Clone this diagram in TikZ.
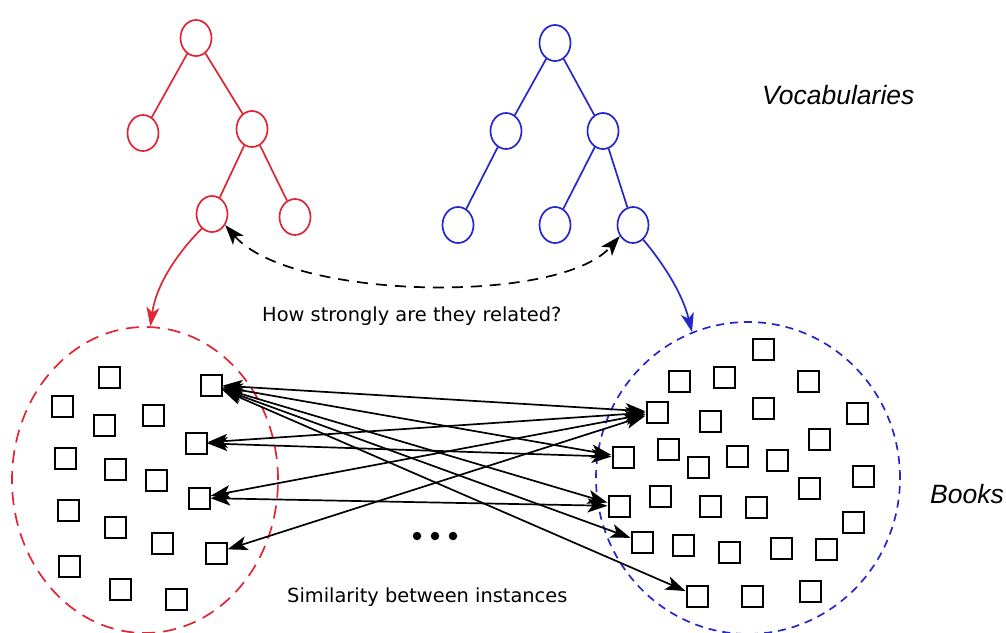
\documentclass[tikz,border=0pt]{standalone}
\usepackage{fontspec}
\setsansfont{DejaVu Sans}
\newfontfamily\arialfont{Liberation Sans}
\usetikzlibrary{shapes.geometric,arrows.meta}
\definecolor{tred}{RGB}{222,38,52}
\definecolor{tblue}{RGB}{38,38,205}
\tikzset{
  tnode/.style={draw,ellipse,minimum width=31pt,minimum height=36pt,inner sep=0pt,line width=1.7pt},
  rnode/.style={tnode,tred},
  bnode/.style={tnode,tblue},
  redge/.style={tred,line width=1.7pt},
  bedge/.style={tblue,line width=1.7pt},
  sq/.style={draw,rectangle,minimum size=21pt,inner sep=0pt,line width=2pt},
  rel/.style={line width=1.7pt,{Stealth[length=20pt,width=14pt,inset=5pt]}-{Stealth[length=20pt,width=14pt,inset=5pt]}},
  tip/.style={line width=1.7pt,-{Stealth[length=19pt,width=13pt,inset=5pt]}},
  lbl/.style={font=\sffamily\fontsize{19.4}{22}\selectfont,inner sep=0pt,anchor=base west},
  ilbl/.style={font=\arialfont\itshape\fontsize{26.5}{30}\selectfont,inner sep=0pt,anchor=base west},
  dotn/.style={circle,fill=black,minimum size=8.5pt,inner sep=0pt},
}
\begin{document}
\begin{tikzpicture}[x=1pt,y=-1pt]
\useasboundingbox (0,0) rectangle (1006,632);
% book collections
\node[draw=tred,dash pattern=on 13pt off 8pt,line width=1.7pt,ellipse,minimum width=266pt,minimum height=306pt,inner sep=0pt] (lc) at (145,480) {};
\node[draw=tblue,dash pattern=on 8pt off 6pt,line width=1.7pt,ellipse,minimum width=304pt,minimum height=312pt,inner sep=0pt] (rc) at (748,478) {};
% red tree
\node[rnode] (r1) at (196,38) {};
\node[rnode] (r2) at (143,133) {};
\node[rnode] (r3) at (252,129) {};
\node[rnode] (r4) at (212,214) {};
\node[rnode] (r5) at (295,217) {};
\draw[redge] (r1) -- (r2);
\draw[redge] (r1) -- (r3);
\draw[redge] (r3) -- (r4);
\draw[redge] (r3) -- (r5);
% blue tree
\node[bnode] (b1) at (555,43) {};
\node[bnode] (b2) at (506,131) {};
\node[bnode] (b3) at (603,131) {};
\node[bnode] (b4) at (458,225) {};
\node[bnode] (b5) at (555,225) {};
\node[bnode] (b6) at (633,225) {};
\draw[bedge] (b1) -- (b2);
\draw[bedge] (b1) -- (b3);
\draw[bedge] (b2) -- (b4);
\draw[bedge] (b3) -- (b5);
\draw[bedge] (b3) -- (b6);
% arrows tree -> collection
\draw[tip,tred] (r4.235) .. controls (178,252) and (156,285) .. (lc.88);
\draw[tip,tblue] (b6.-55) .. controls (662,262) and (682,292) .. (rc.111);
\draw[rel,dash pattern=on 11pt off 8pt] (r4.-40) .. controls (290,300) and (560,305) .. (b6.-140);
% labels
\node[ilbl] (voc) at (762,104) {Vocabularies};
\node[ilbl] (books) at (930,503) {Books};
\node[lbl] (how) at (262,321) {How strongly are they related?};
\node[lbl] (sim) at (287,602) {Similarity between instances};
% left squares
\foreach \n/\x/\y in {1/109/377,2/211/385,3/62/406,4/104/425,5/153/415,6/196/443,7/65/458,8/115/469,9/156/480,10/199/498,11/68/510,12/115/527,13/162/543,14/216/553,15/69/566,16/120/589,17/176/599}
  \node[sq] (L\n) at (\x,\y) {};
% right squares
\foreach \n/\x/\y in {1/763/349,2/679/381,3/724/377,4/808/381,5/657/412,6/710/421,7/763/408,8/857/413,9/819/439,10/623/457,11/668/449,12/698/467,13/737/456,14/777/460,15/863/476,16/809/488,17/660/496,18/619/506,19/710/506,20/756/507,21/853/522,22/642/542,23/683/545,24/729/552,25/781/548,26/826/549,27/697/596,28/752/596,29/810/591}
  \node[sq] (R\n) at (\x,\y) {};
% similarity links
\draw[rel] (L2) -- (R5);
\draw[rel] (L2) -- (R10);
\draw[rel] (L2) -- (R18);
\draw[rel] (L2) -- (R22);
\draw[rel] (L2) -- (R27);
\draw[rel] (L6) -- (R5);
\draw[rel] (L6) -- (R10);
\draw[rel] (L10) -- (R5);
\draw[rel] (L10) -- (R18);
\draw[rel] (L14) -- (R5);
% ellipsis dots
\node[dotn] (d1) at (417,536) {};
\node[dotn] (d2) at (435,536) {};
\node[dotn] (d3) at (453,536) {};
\end{tikzpicture}
\end{document}
